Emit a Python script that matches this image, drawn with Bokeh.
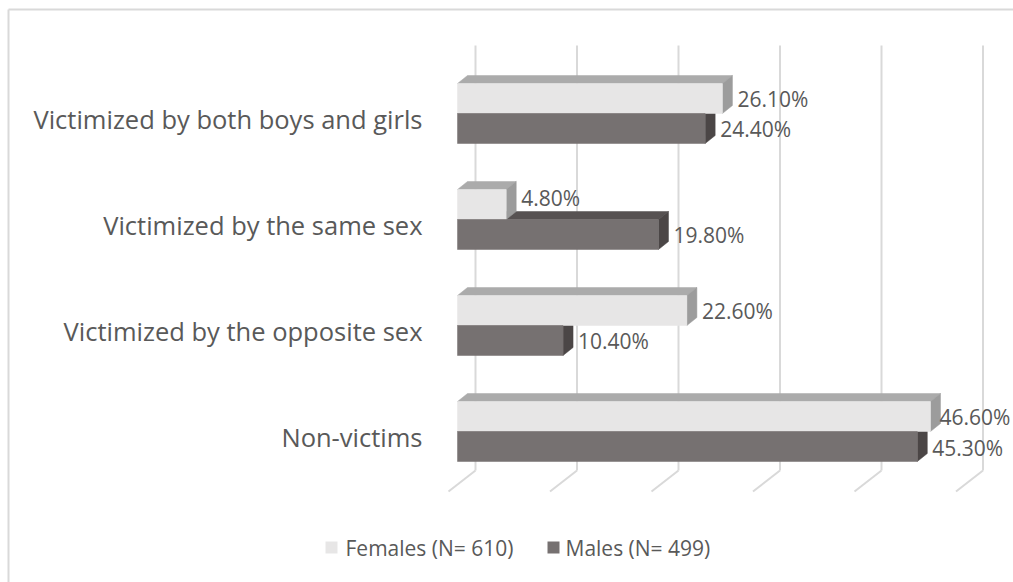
from bokeh.plotting import figure
from bokeh.models import Range1d
from bokeh.embed import file_html
from bokeh.resources import INLINE
from bokeh.core.properties import value

# ---- data ----
categories = ["Non-victims", "Victimized by the opposite sex",
              "Victimized by the same sex", "Victimized by both boys and girls"]
females = [46.6, 22.6, 4.8, 26.1]
males = [45.3, 10.4, 19.8, 24.4]
grid_ticks = [0, 10, 20, 30, 40, 50]
series_names = ["Females (N= 610)", "Males (N= 499)"]

# ---- layout constants (pixels) ----
W, H = 1013, 582
X0, PX = 457.0, 10.15     # px of value 0 (front face), px per percent
Y0, PY = 431.0, 106.0     # px (from top) of first category centre, px per category
F_NUDGE = [0, 0, -7, 0]   # extra vertical nudge (px) of female value labels
M_NUDGE = [1, 0, 0, 0]
F_XNUDGE = [-6, 0, 0, 0]  # horizontal nudge (px) of female value labels
TXT_FIX_DATA, TXT_FIX_CAT, TXT_FIX_LEG = 8, 10, 6   # renderer baseline corrections

def dx(px):
    return px / PX

def dy(px):
    return px / PY

def fx(px):   # pixel x -> data x
    return (px - X0) / PX

def fy(px):   # pixel y (from top) -> data y
    return (Y0 - px) / PY

FONT = value("Open Sans")
TXT = "#595959"
F_FRONT, F_TOP, F_SIDE = "#E7E6E6", "#ABABAB", "#9C9C9C"
M_FRONT, M_TOP, M_SIDE = "#767171", "#575252", "#4B4646"
GRID = "#D9D9D9"

p = figure(width=W, height=H, output_backend="svg", toolbar_location=None,
           x_range=Range1d(fx(0), fx(W)), y_range=Range1d(fy(H), fy(0)),
           min_border=0, outline_line_color=None)
p.axis.visible = False
p.grid.visible = False
p.background_fill_color = "white"
p.border_fill_color = "white"

# chart border (top and left)
p.segment(x0=[fx(8), fx(8)], y0=[fy(9), fy(9)], x1=[fx(W), fx(8)], y1=[fy(9), fy(H)],
          line_color=GRID, line_width=2)

# back-wall gridlines and floor lines
WALL = dx(18)
g_top, g_bot, g_floor = fy(45), fy(470), fy(491)
n = len(grid_ticks)
p.segment(x0=[t + WALL for t in grid_ticks], y0=[g_top] * n,
          x1=[t + WALL for t in grid_ticks], y1=[g_bot] * n,
          line_color=GRID, line_width=2)
p.segment(x0=[t + WALL for t in grid_ticks], y0=[g_bot] * n,
          x1=[t + WALL - dx(27) for t in grid_ticks], y1=[g_floor] * n,
          line_color=GRID, line_width=2)

BH = dy(30)
DX, DY = dx(10), dy(8)

def faces(vals, offs):
    tops, sides = [], []
    lefts, rights, bots, tps = [], [], [], []
    for k, v in enumerate(vals):
        b = k + offs
        t = b + BH
        tops.append(([0, v, v + DX, DX], [t, t, t + DY, t + DY]))
        sides.append(([v, v, v + DX, v + DX], [b, t, t + DY, b + DY]))
        lefts.append(0)
        rights.append(v)
        bots.append(b)
        tps.append(t)
    return tops, sides, (lefts, rights, bots, tps)

f_tops, f_sides, f_front = faces(females, 0.0)
m_tops, m_sides, m_front = faces(males, -BH)

def draw_poly(polys, color):
    p.patches(xs=[q[0] for q in polys], ys=[q[1] for q in polys],
              fill_color=color, line_color=color, line_width=0.5)

draw_poly(m_tops, M_TOP)
draw_poly(m_sides, M_SIDE)
draw_poly(f_tops, F_TOP)
draw_poly(f_sides, F_SIDE)
p.quad(left=f_front[0], right=f_front[1], bottom=f_front[2], top=f_front[3],
       fill_color=F_FRONT, line_color=F_FRONT, line_width=0.5)
p.quad(left=m_front[0], right=m_front[1], bottom=m_front[2], top=m_front[3],
       fill_color=M_FRONT, line_color=M_FRONT, line_width=0.5)

# data labels (baseline 8px below bar-face centre)
lab_x = ([v + DX + dx(5 + F_XNUDGE[k]) for k, v in enumerate(females)] +
         [v + DX + dx(5) for v in males])
lab_y = ([k + BH / 2 - dy(8 + F_NUDGE[k] - TXT_FIX_DATA) for k in range(len(females))] +
         [k - BH / 2 - dy(8 + M_NUDGE[k] - TXT_FIX_DATA) for k in range(len(males))])
lab_t = [f"{v:.2f}%" for v in females] + [f"{v:.2f}%" for v in males]
p.text(x=lab_x, y=lab_y, text=lab_t, text_font=FONT, text_font_size="21px",
       text_color=TXT, text_align="left", text_baseline="alphabetic")

# category labels
p.text(x=[fx(422)] * len(categories),
       y=[k - dy(15 - TXT_FIX_CAT) for k in range(len(categories))],
       text=categories, text_font=FONT, text_font_size="25.5px", text_color=TXT,
       text_align="right", text_baseline="alphabetic")

# legend
p.scatter(x=[fx(331), fx(553)], y=[fy(547), fy(547)], marker="square", size=12,
          fill_color=[F_FRONT, M_FRONT], line_color=None)
p.text(x=[fx(345), fx(565)], y=[fy(553 - TXT_FIX_LEG)] * 2, text=series_names, text_font=FONT,
       text_font_size="21px", text_color=TXT, text_align="left", text_baseline="alphabetic")

open("out.html", "w").write(file_html(p, INLINE))
